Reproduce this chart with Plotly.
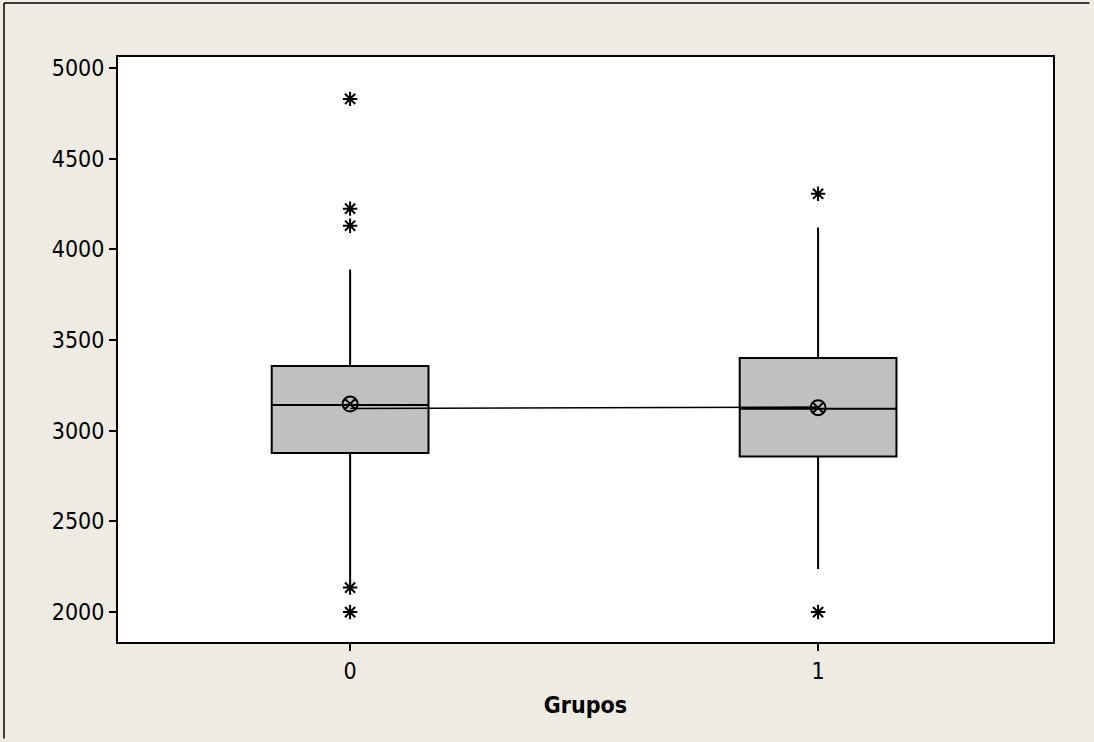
import plotly.graph_objects as go

groups = [0, 1]
q1 = [2877, 2857]
median = [3142, 3121]
q3 = [3357, 3401]
lower_whisker = [2155, 2237]
upper_whisker = [3888, 4120]
means = [3147, 3127]
mean_connect = [3122, 3130]
outliers_x = [0, 0, 0, 0, 0, 1, 1]
outliers_y = [4829, 4224, 4130, 2135, 2000, 4306, 2000]
y_ticks = [2000, 2500, 3000, 3500, 4000, 4500, 5000]

FONT = "Tahoma, 'DejaVu Sans Condensed', 'Liberation Sans', sans-serif"
BG = "#EEEBE2"

fig = go.Figure()
for i, g in enumerate(groups):
    fig.add_trace(go.Box(
        x=[g], q1=[q1[i]], median=[median[i]], q3=[q3[i]],
        lowerfence=[lower_whisker[i]], upperfence=[upper_whisker[i]],
        width=0.335, whiskerwidth=0,
        fillcolor="#C0C0C0", line=dict(color="black", width=2),
        boxpoints=False, showlegend=False, hoverinfo="skip",
    ))

fig.add_trace(go.Scatter(
    x=groups, y=mean_connect, mode="lines",
    line=dict(color="black", width=1.6), showlegend=False, hoverinfo="skip",
))
fig.add_trace(go.Scatter(
    x=groups, y=means, mode="markers",
    marker=dict(symbol="circle-x-open", size=15, color="black", line=dict(width=2)),
    showlegend=False, hoverinfo="skip",
))
fig.add_trace(go.Scatter(
    x=outliers_x, y=outliers_y, mode="markers",
    marker=dict(symbol="asterisk-open", size=12, color="black", line=dict(width=2, color="black")),
    showlegend=False, hoverinfo="skip",
))

fig.update_layout(
    width=1094, height=742,
    margin=dict(l=118, r=41, t=57, b=100),
    paper_bgcolor=BG, plot_bgcolor="white",
    font=dict(family=FONT, size=23, color="black"),
    xaxis=dict(
        range=[-0.496, 1.502], tickmode="array", tickvals=groups,
        ticktext=[str(g) for g in groups],
        ticks="outside", ticklen=7, tickwidth=2, tickcolor="black",
        showgrid=False, zeroline=False,
        showline=True, mirror=True, linecolor="black", linewidth=2,
        title=dict(text="<b>Grupos</b>", font=dict(family=FONT, size=23), standoff=14),
        tickfont=dict(family=FONT, size=23),
    ),
    yaxis=dict(
        range=[1835, 5060], tickmode="array", tickvals=y_ticks,
        ticks="outside", ticklen=7, tickwidth=2, tickcolor="black",
        showgrid=False, zeroline=False,
        showline=True, mirror=True, linecolor="black", linewidth=2,
        tickfont=dict(family=FONT, size=23),
    ),
    shapes=[
        dict(type="line", xref="paper", yref="paper", x0=-0.1219, x1=-0.1219, y0=-0.165, y1=1.0923,
             line=dict(color="black", width=1.5)),
        dict(type="line", xref="paper", yref="paper", x0=-0.1219, x1=1.039, y0=1.0923, y1=1.0923,
             line=dict(color="black", width=1.5)),
    ],
)

fig.write_html("out.html")
